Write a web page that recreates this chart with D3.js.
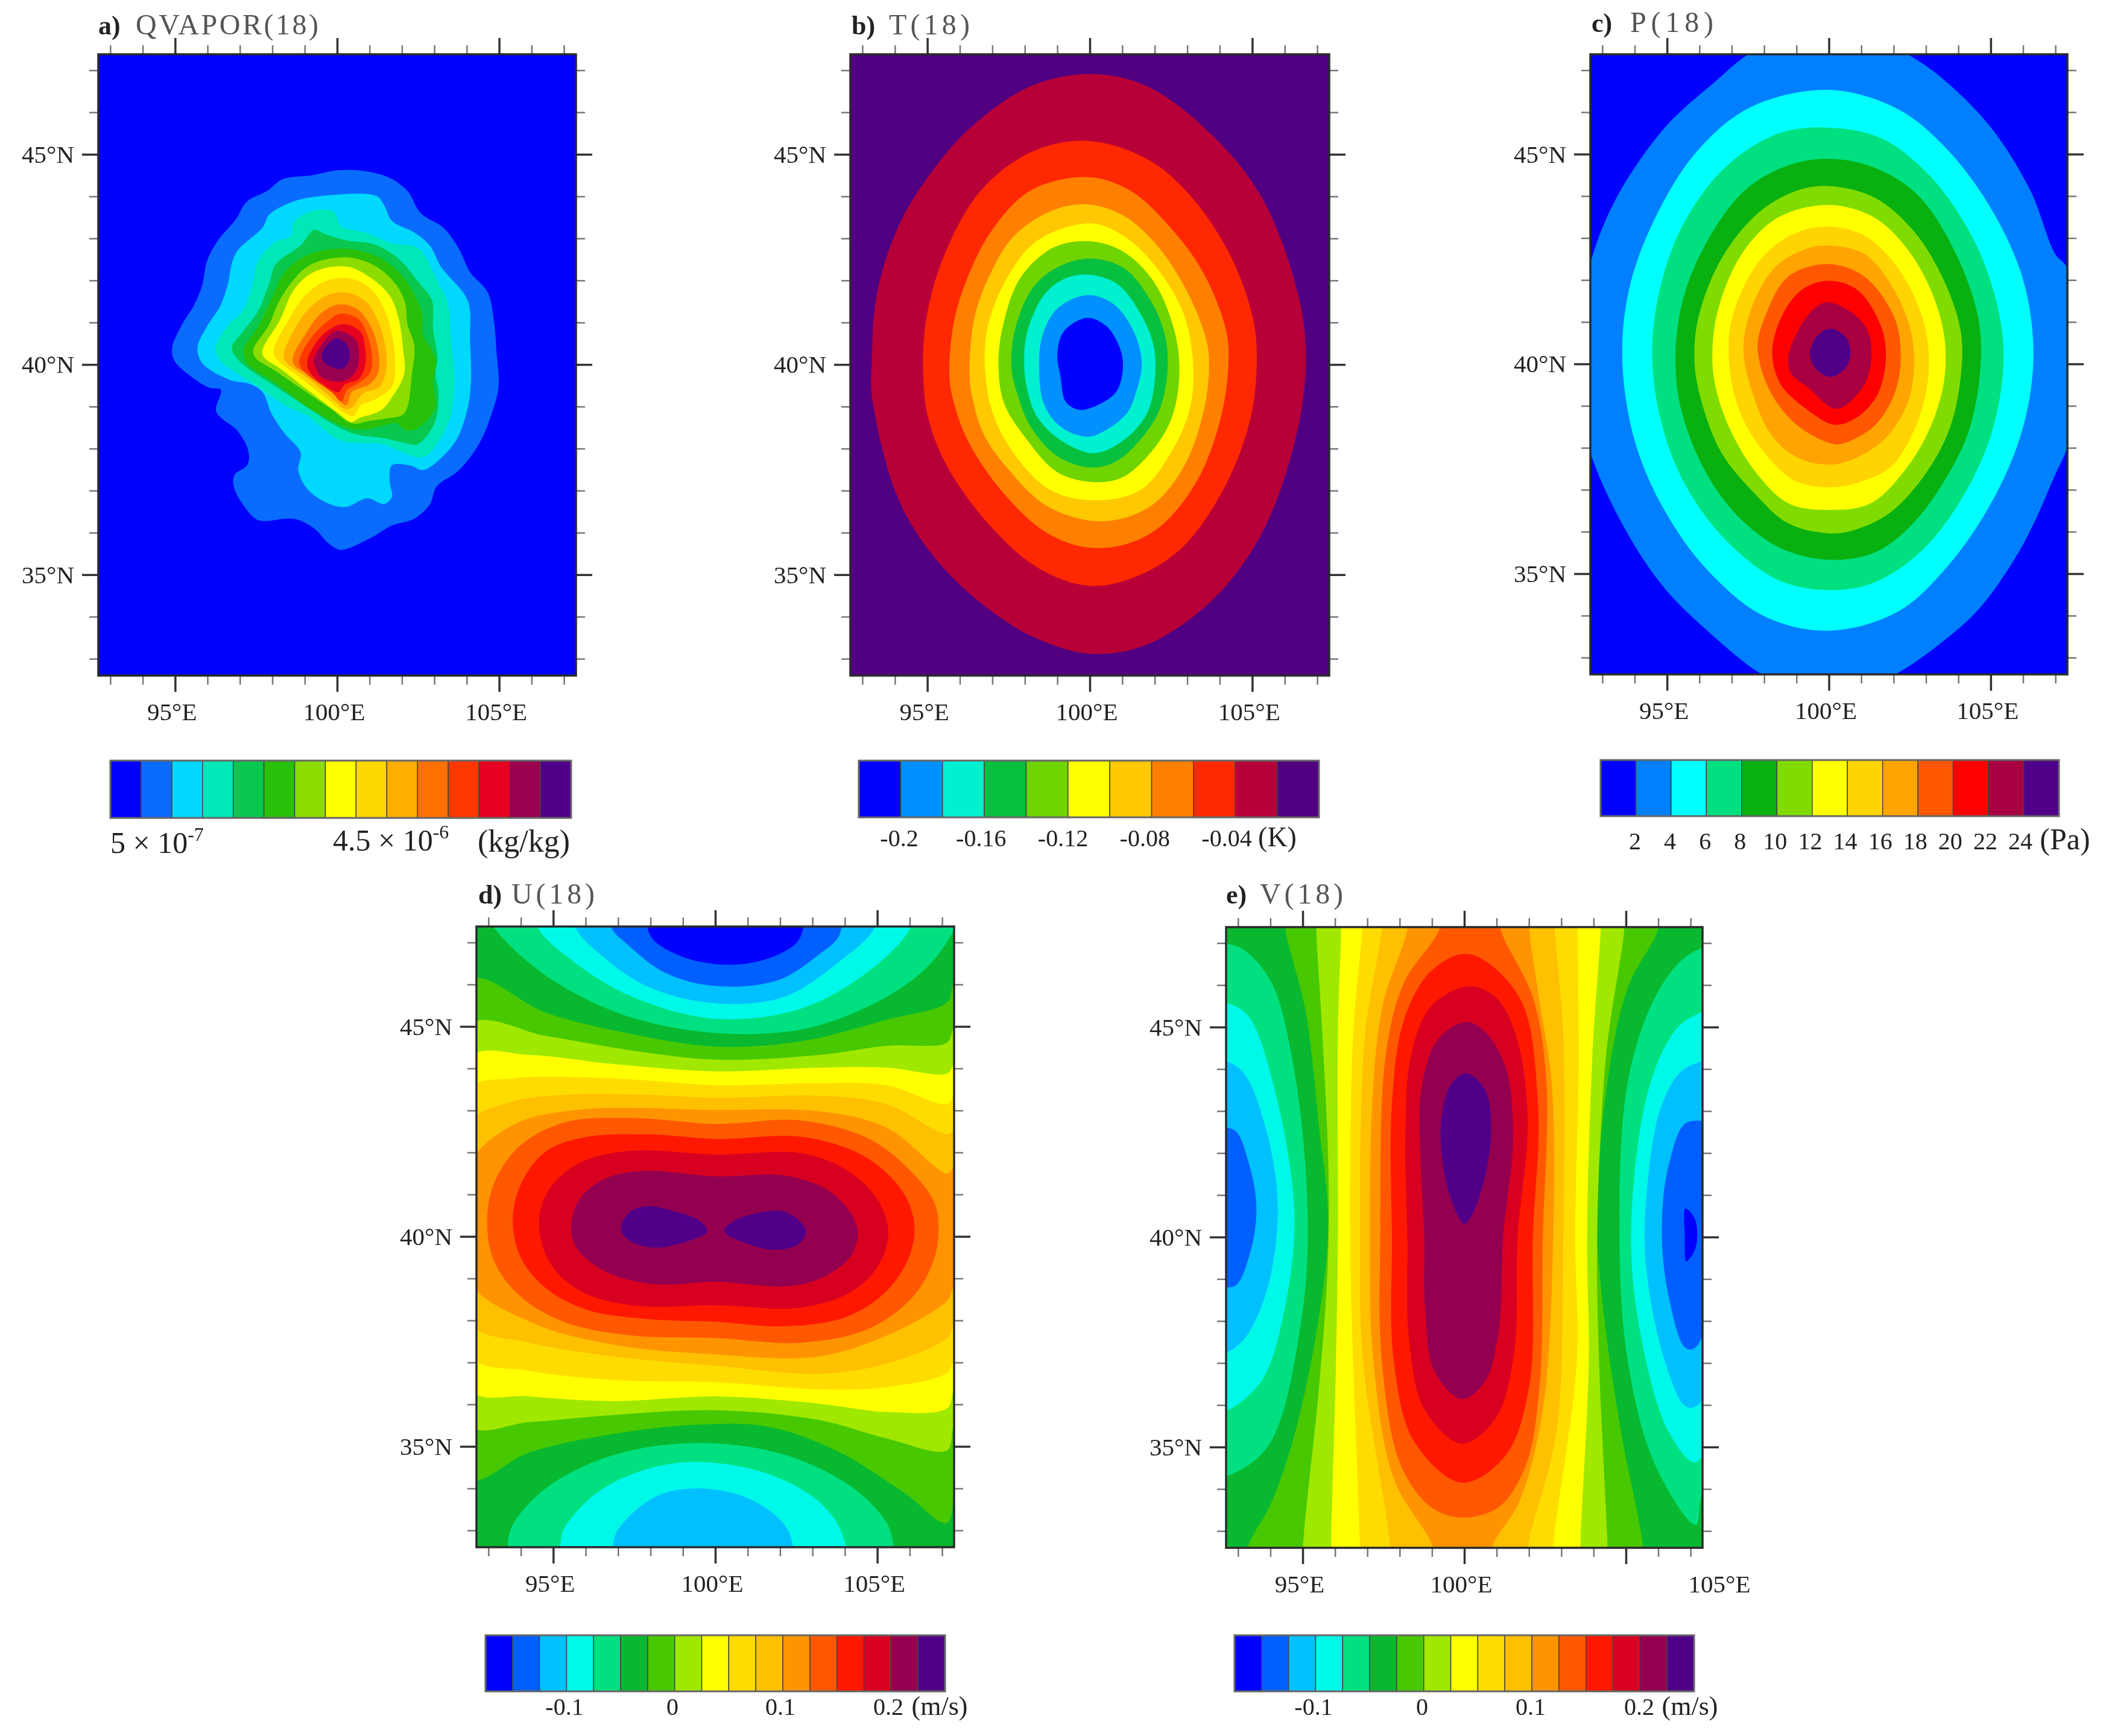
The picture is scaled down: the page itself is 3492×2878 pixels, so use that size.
<!DOCTYPE html>
<html>
<head>
<meta charset="utf-8">
<script src="https://cdn.jsdelivr.net/npm/d3@7"></script>
<style>
  body { margin: 0; background: #fff; }
  svg { filter: blur(0.7px); }
  text { font-family: "Liberation Serif", serif; fill: #222; }
</style>
</head>
<body>
<script>
const width = 3492;
const height = 2878;

const lonDomain = [92.63, 107.37];
const latDomain = [32.6, 47.38];
const lonMajor = [95, 100, 105];
const latMajor = [35, 40, 45];
const lonMinor = [93, 94, 96, 97, 98, 99, 101, 102, 103, 104, 106, 107];
const latMinor = [33, 34, 36, 37, 38, 39, 41, 42, 43, 44, 46, 47];

const qvaporColors = ["#0000ff", "#0a6cff", "#00d8ff", "#00e8b8", "#08c850", "#28c008", "#8cdc00", "#ffff00", "#ffd800", "#ffae00", "#ff7000", "#ff3800", "#e60020", "#9a0050", "#500088"];
const tempColors = ["#0000ff", "#0090ff", "#00f0d0", "#08c040", "#70d400", "#ffff00", "#ffc800", "#ff8000", "#ff2800", "#b80038", "#500080"];
const presColors = ["#0000ff", "#0080ff", "#00ffff", "#00e080", "#08b010", "#80dc00", "#ffff00", "#ffd400", "#ffa400", "#ff5800", "#ff0000", "#a80040", "#500088"];
const windColors = ["#0000ff", "#0060ff", "#00c0ff", "#00f8e8", "#00e080", "#08b830", "#48c800", "#a0e800", "#ffff00", "#ffdc00", "#ffc000", "#ff9400", "#ff5800", "#ff1800", "#d80020", "#940050", "#500088"];

// contour rings, [colour index, [lon, lat, lon, lat, ...]], painted outermost first
const qvaporRings = [
  [1, [94.91,40.40, 95.22,40.96, 95.57,41.39, 95.84,41.89, 95.98,42.45, 96.32,42.95, 96.87,43.45, 97.22,43.88, 97.84,44.13, 98.32,44.41, 99.21,44.50, 100.04,44.62, 100.86,44.60, 101.62,44.44, 102.17,44.13, 102.58,43.60, 103.27,43.26, 103.75,42.76, 104.10,42.20, 104.65,41.71, 104.85,40.96, 104.92,40.27, 104.98,39.47, 104.72,38.72, 104.37,38.10, 103.75,37.48, 103.07,37.10, 102.86,36.67, 102.38,36.33, 101.69,36.17, 101.00,35.86, 100.11,35.59, 99.76,35.73, 99.28,36.11, 98.66,36.33, 97.56,36.30, 97.15,36.61, 96.81,37.10, 96.84,37.38, 97.22,37.60, 97.27,37.91, 96.94,38.41, 96.27,38.88, 96.41,39.40, 96.05,39.45, 95.50,39.71, 94.98,40.09]],
  [2, [95.69,40.40, 95.98,40.90, 96.39,41.39, 96.60,41.83, 96.87,42.64, 97.70,43.26, 97.91,43.57, 98.66,43.88, 99.63,44.02, 101.21,44.01, 101.45,43.79, 101.69,43.42, 102.38,43.14, 102.86,42.83, 103.20,42.33, 104.03,41.52, 104.10,40.59, 104.13,39.59, 104.03,38.97, 103.69,38.22, 103.13,37.72, 102.65,37.49, 102.24,37.60, 101.69,37.60, 101.62,37.23, 101.69,36.85, 101.45,36.68, 100.93,36.82, 100.25,36.61, 99.63,36.73, 99.08,37.04, 98.80,37.48, 98.87,37.91, 98.39,38.35, 97.97,38.84, 97.70,39.34, 97.29,39.54, 96.74,39.62, 95.84,40.03]],
  [3, [96.25,40.37, 96.60,40.90, 97.08,41.27, 97.36,41.83, 97.56,42.45, 98.04,42.89, 98.59,43.07, 98.66,43.39, 99.28,43.66, 99.90,43.63, 100.11,43.29, 100.86,43.14, 101.69,42.89, 102.52,42.76, 103.07,42.02, 103.41,41.46, 103.51,40.59, 103.62,39.65, 103.48,38.72, 103.07,38.10, 102.65,37.79, 102.03,37.91, 101.41,38.10, 100.73,38.13, 100.11,38.19, 99.56,38.47, 99.08,38.78, 98.39,39.03, 97.56,39.47, 96.81,39.84, 96.39,40.09]],
  [4, [96.75,40.40, 97.08,40.77, 97.56,41.27, 97.91,41.95, 98.11,42.39, 98.87,42.83, 99.28,43.20, 99.63,43.10, 100.31,42.95, 101.14,42.86, 101.90,42.51, 102.52,41.95, 102.93,41.52, 102.96,40.83, 103.10,40.15, 103.03,39.78, 103.13,39.34, 103.00,38.60, 102.48,38.10, 102.10,38.13, 101.41,38.25, 100.52,38.35, 99.83,38.60, 99.21,38.91, 98.25,39.40, 97.01,40.06]],
  [5, [97.11,40.34, 97.56,40.90, 97.91,41.46, 98.46,42.27, 99.21,42.64, 100.18,42.76, 101.21,42.58, 101.90,42.20, 102.31,41.77, 102.62,41.21, 102.65,40.71, 103.03,40.15, 102.96,39.53, 103.03,38.97, 102.45,38.47, 102.10,38.44, 101.83,38.60, 101.00,38.47, 100.45,38.47, 99.83,38.66, 99.01,39.03, 98.04,39.59, 97.22,40.03]],
  [6, [97.41,40.34, 97.91,40.96, 98.18,41.46, 98.66,42.02, 99.21,42.39, 100.31,42.55, 101.21,42.33, 101.83,41.89, 102.10,41.46, 102.17,40.96, 102.38,40.46, 102.31,39.78, 102.07,38.84, 101.55,38.72, 101.00,38.66, 100.45,38.60, 99.76,38.97, 98.94,39.40, 98.11,39.84, 97.49,40.15]],
  [7, [97.69,40.31, 98.25,41.08, 98.66,41.77, 99.28,42.20, 100.31,42.33, 101.00,42.08, 101.62,41.64, 101.90,41.08, 102.03,40.40, 102.07,39.78, 101.69,39.22, 101.35,38.91, 100.66,38.72, 100.45,38.63, 100.04,38.84, 99.08,39.40, 98.25,39.90, 97.77,40.15]],
  [8, [98.04,40.31, 98.52,41.08, 99.01,41.64, 99.63,41.98, 100.38,42.05, 101.00,41.83, 101.45,41.33, 101.69,40.71, 101.79,40.03, 101.69,39.47, 101.14,39.16, 100.73,39.03, 100.52,38.78, 100.31,38.81, 99.63,39.22, 98.80,39.72, 98.18,40.09]],
  [9, [98.35,40.21, 98.73,40.90, 99.21,41.39, 99.76,41.67, 100.31,41.71, 100.86,41.52, 101.24,41.08, 101.48,40.46, 101.52,39.90, 101.31,39.47, 100.80,39.31, 100.45,38.97, 100.25,38.94, 99.63,39.34, 99.01,39.72, 98.46,40.03]],
  [10, [98.63,40.15, 99.01,40.71, 99.49,41.21, 100.04,41.43, 100.59,41.33, 101.00,40.96, 101.24,40.46, 101.28,39.84, 101.00,39.53, 100.45,39.34, 100.28,39.03, 99.76,39.40, 99.08,39.78, 98.70,39.96]],
  [11, [98.83,40.09, 99.21,40.65, 99.69,41.02, 100.11,41.21, 100.66,41.08, 100.93,40.71, 101.07,40.27, 101.04,39.84, 100.73,39.59, 100.31,39.40, 100.14,39.12, 99.83,39.34, 99.21,39.68, 98.90,39.90]],
  [12, [99.08,40.09, 99.42,40.59, 99.83,40.87, 100.25,40.96, 100.73,40.77, 100.86,40.40, 100.86,39.96, 100.66,39.65, 100.25,39.53, 100.04,39.34, 99.56,39.53, 99.14,39.84]],
  [13, [99.28,40.09, 99.56,40.52, 99.97,40.80, 100.38,40.71, 100.62,40.52, 100.66,40.03, 100.45,39.71, 100.04,39.59, 99.49,39.71, 99.32,39.96]],
  [14, [99.52,40.21, 99.69,40.46, 100.00,40.62, 100.31,40.46, 100.38,40.15, 100.18,39.90, 99.76,39.96, 99.56,40.09]]
];

const tempRings = [
  [9, [93.29,40.03, 93.44,41.65, 94.10,43.27, 95.12,44.57, 96.35,45.65, 98.18,46.62, 100.02,46.91, 101.76,46.62, 103.80,45.43, 105.33,43.92, 106.45,41.54, 106.65,40.03, 106.35,38.30, 105.33,36.04, 103.80,34.42, 101.76,33.34, 100.02,33.12, 98.18,33.55, 96.35,34.52, 94.92,35.71, 94.00,37.01, 93.29,39.28]],
  [8, [94.87,39.82, 94.97,41.11, 95.53,42.62, 96.65,44.14, 98.18,45.05, 99.92,45.32, 101.76,44.89, 103.08,44.03, 104.31,42.62, 105.02,41.11, 105.14,40.03, 104.92,38.63, 104.10,37.01, 102.78,35.60, 101.24,34.90, 99.92,34.74, 98.39,35.17, 96.96,36.14, 95.63,37.55, 95.02,38.74]],
  [7, [95.68,39.71, 95.79,40.90, 96.14,41.87, 96.96,43.16, 98.18,44.14, 99.92,44.46, 101.24,44.14, 102.47,43.27, 103.49,42.19, 104.20,40.79, 104.26,39.92, 104.00,38.63, 103.29,37.22, 102.16,36.14, 101.04,35.71, 99.82,35.66, 98.59,36.04, 97.27,37.01, 96.24,38.20, 95.79,39.17]],
  [6, [96.30,39.71, 96.45,41.11, 96.96,42.19, 97.67,43.06, 98.80,43.65, 99.92,43.81, 101.04,43.54, 102.06,42.84, 102.98,41.76, 103.59,40.57, 103.67,39.92, 103.49,38.84, 102.88,37.55, 101.96,36.68, 100.84,36.31, 99.82,36.31, 98.59,36.68, 97.57,37.44, 96.76,38.30, 96.40,39.17]],
  [5, [96.78,39.82, 96.86,40.90, 97.47,42.08, 98.39,42.95, 100.02,43.36, 101.04,43.06, 102.06,42.30, 102.88,41.22, 103.18,40.03, 103.08,38.95, 102.47,37.87, 101.55,37.01, 100.12,36.77, 98.80,37.01, 97.78,37.76, 97.06,38.74]],
  [4, [97.19,39.92, 97.32,40.90, 97.88,42.08, 98.90,42.79, 100.02,42.93, 101.04,42.68, 101.96,41.98, 102.57,40.90, 102.76,39.92, 102.57,38.84, 102.06,38.09, 101.04,37.33, 100.12,37.20, 99.00,37.44, 97.98,38.30, 97.37,39.06]],
  [3, [97.59,39.92, 97.72,40.90, 98.29,41.87, 99.10,42.35, 100.02,42.52, 101.04,42.30, 101.86,41.54, 102.32,40.68, 102.39,39.82, 102.16,38.95, 101.65,38.30, 100.84,37.71, 100.02,37.55, 99.00,37.82, 98.18,38.52, 97.78,39.28]],
  [2, [97.98,40.03, 98.08,40.79, 98.59,41.65, 99.20,42.03, 99.92,42.14, 100.84,41.92, 101.55,41.22, 101.96,40.46, 102.01,39.71, 101.76,38.84, 101.04,38.20, 100.12,37.89, 99.10,38.20, 98.39,38.74, 98.08,39.38]],
  [1, [98.44,39.92, 98.54,40.68, 99.00,41.33, 99.92,41.65, 100.73,41.44, 101.35,40.79, 101.60,40.03, 101.40,39.28, 101.14,38.84, 100.43,38.41, 99.92,38.28, 99.10,38.52, 98.59,39.06]],
  [0, [99.00,40.25, 99.20,40.79, 99.92,41.11, 100.53,40.90, 100.94,40.36, 101.02,39.92, 100.84,39.38, 100.43,39.11, 99.71,38.92, 99.26,39.11, 99.10,39.71]]
];

const presRings = [
  [1, [92.59,42.30, 93.41,43.92, 94.95,45.65, 96.49,46.73, 97.51,47.38, 98.80,47.85, 100.00,47.98, 101.20,47.85, 102.43,47.38, 103.45,46.84, 104.99,45.65, 106.22,44.14, 106.99,42.62, 107.35,42.30, 107.86,40.14, 107.35,37.98, 107.04,37.44, 106.01,35.71, 104.68,34.20, 103.45,33.34, 102.12,32.63, 101.00,32.25, 100.00,32.15, 99.00,32.25, 97.87,32.63, 96.38,33.55, 94.95,34.63, 93.72,36.04, 92.59,37.98, 92.08,40.14]],
  [2, [93.62,40.03, 93.82,41.76, 94.64,43.49, 95.97,45.11, 97.61,46.13, 100.00,46.53, 102.12,46.08, 103.66,45.11, 105.09,43.60, 106.01,41.98, 106.32,40.25, 106.01,38.52, 105.09,36.79, 103.66,35.17, 102.12,34.09, 100.00,33.64, 98.02,33.98, 96.28,35.06, 94.95,36.47, 94.03,38.09]],
  [3, [94.54,40.14, 94.74,41.65, 95.46,43.27, 96.79,44.68, 98.43,45.49, 100.00,45.63, 101.61,45.38, 103.15,44.46, 104.48,42.95, 105.19,41.44, 105.40,40.14, 105.09,38.52, 104.27,37.01, 102.94,35.60, 101.40,34.79, 100.00,34.61, 98.43,34.85, 96.79,35.82, 95.56,37.12, 94.85,38.52]],
  [4, [95.26,40.03, 95.46,41.44, 96.18,42.84, 97.41,44.14, 98.74,44.73, 100.00,44.89, 101.40,44.68, 102.74,44.03, 103.86,42.73, 104.58,41.22, 104.70,40.14, 104.37,38.52, 103.66,37.33, 102.53,36.14, 101.40,35.50, 100.00,35.33, 98.53,35.60, 97.20,36.36, 96.18,37.44, 95.46,38.84]],
  [5, [95.85,40.03, 95.97,41.11, 96.69,42.52, 97.82,43.60, 99.05,44.14, 100.00,44.24, 101.40,43.97, 102.63,43.16, 103.56,41.98, 104.07,40.79, 104.09,39.82, 103.76,38.52, 103.04,37.44, 101.92,36.47, 100.79,36.04, 100.00,35.96, 98.74,36.20, 97.72,36.90, 96.69,37.87, 96.08,39.06]],
  [6, [96.40,40.25, 96.59,41.33, 97.31,42.62, 98.43,43.49, 100.00,43.79, 101.40,43.49, 102.43,42.73, 103.15,41.76, 103.56,40.68, 103.56,39.60, 103.15,38.52, 102.43,37.55, 101.30,36.68, 100.00,36.52, 98.74,36.68, 97.72,37.44, 96.90,38.52, 96.49,39.49]],
  [7, [96.90,40.36, 97.10,41.33, 97.92,42.52, 98.94,43.11, 100.00,43.27, 101.10,43.06, 102.12,42.30, 102.84,41.22, 103.09,40.25, 102.99,39.28, 102.63,38.41, 101.92,37.55, 100.89,37.17, 100.00,37.06, 98.94,37.22, 98.02,37.87, 97.20,38.95]],
  [8, [97.36,40.36, 97.61,41.33, 98.33,42.30, 99.25,42.73, 100.00,42.82, 101.10,42.62, 102.02,41.76, 102.53,40.79, 102.63,39.92, 102.43,39.06, 101.71,38.20, 100.69,37.71, 100.00,37.60, 99.05,37.76, 98.23,38.30, 97.61,39.38]],
  [9, [97.80,40.36, 98.02,41.11, 98.74,42.08, 100.00,42.38, 101.10,42.08, 102.02,41.11, 102.22,40.14, 102.02,39.28, 101.40,38.52, 100.38,38.09, 100.00,38.12, 99.05,38.52, 98.23,39.28]],
  [10, [98.25,40.25, 98.53,41.11, 99.15,41.76, 100.00,41.98, 100.89,41.76, 101.61,40.90, 101.76,40.14, 101.51,39.28, 100.89,38.74, 100.17,38.55, 99.35,38.90, 98.53,39.49]],
  [11, [98.74,40.14, 99.05,40.79, 99.56,41.33, 100.00,41.47, 100.89,41.11, 101.25,40.68, 101.28,39.92, 100.99,39.38, 100.23,38.93, 99.35,39.44, 98.84,39.76]],
  [12, [99.41,40.25, 99.66,40.68, 100.07,40.84, 100.53,40.63, 100.67,40.25, 100.53,39.92, 100.07,39.69, 99.61,39.87]]
];

const uRings = [
  [4, [93.01,47.61, 93.17,47.36, 93.96,46.71, 95.32,45.94, 97.42,45.21, 100.04,44.84, 102.67,44.93, 104.76,45.49, 106.34,46.27, 107.18,47.05, 107.39,47.49, 100.04,47.94]],
  [3, [94.53,47.83, 94.53,47.36, 95.53,46.60, 97.42,45.71, 100.04,45.18, 102.67,45.43, 104.76,46.33, 106.02,47.36, 106.02,47.83]],
  [2, [95.69,47.83, 95.69,47.36, 96.37,46.77, 97.94,45.94, 100.04,45.55, 102.14,45.71, 103.92,46.60, 104.92,47.36, 104.92,47.83]],
  [1, [96.79,47.83, 96.79,47.36, 97.31,46.94, 98.47,46.27, 100.04,45.96, 101.93,46.10, 103.19,46.71, 103.82,47.16, 103.82,47.83]],
  [0, [98.00,47.83, 98.00,47.16, 98.99,46.66, 100.57,46.47, 101.93,46.71, 102.61,47.10, 102.61,47.83]],
  [4, [93.59,32.13, 93.59,32.63, 93.75,33.13, 94.80,34.02, 96.89,34.80, 99.52,35.08, 102.14,34.80, 104.24,34.02, 105.29,33.18, 105.50,32.63, 105.50,32.13]],
  [3, [95.22,32.13, 95.22,32.63, 95.32,33.02, 96.37,33.91, 97.94,34.47, 99.52,34.63, 101.62,34.35, 103.19,33.69, 103.92,32.91, 103.95,32.13]],
  [2, [96.84,32.13, 96.84,32.63, 97.00,33.02, 98.15,33.80, 99.52,34.00, 101.09,33.74, 102.14,33.13, 102.40,32.63, 102.40,32.13]],
  [6, [92.38,46.10, 94.80,45.32, 97.42,44.82, 100.04,44.52, 102.67,44.65, 105.29,45.16, 107.16,45.58, 107.39,46.05, 107.81,46.05, 107.81,33.69, 107.39,34.91, 107.16,33.18, 105.81,33.91, 103.71,34.91, 101.62,35.47, 99.52,35.52, 96.89,35.30, 94.27,34.86, 92.38,34.24]],
  [7, [92.38,45.02, 94.80,44.77, 97.42,44.43, 100.04,44.21, 103.19,44.32, 105.29,44.54, 107.16,44.62, 107.39,44.99, 107.81,44.99, 107.81,35.52, 107.39,35.52, 107.16,34.91, 105.29,35.19, 103.19,35.63, 100.04,35.86, 96.89,35.75, 94.27,35.58, 92.38,35.52]],
  [8, [92.38,44.24, 94.27,44.32, 96.89,44.10, 100.04,43.93, 103.19,44.02, 105.29,44.02, 107.16,43.88, 107.39,44.10, 107.81,44.10, 107.81,36.36, 107.39,36.36, 107.16,35.91, 105.29,35.82, 103.19,36.02, 100.04,36.19, 96.89,36.08, 94.27,36.19, 92.38,36.38]],
  [9, [92.38,43.49, 93.75,43.76, 96.89,43.76, 100.04,43.60, 103.19,43.65, 105.29,43.60, 107.16,43.15, 107.39,43.37, 107.81,43.37, 107.81,37.03, 107.39,37.03, 107.16,36.75, 105.29,36.41, 103.19,36.36, 100.04,36.53, 96.89,36.58, 94.27,36.80, 92.38,37.19]],
  [10, [92.38,42.65, 93.75,43.21, 95.32,43.37, 97.94,43.37, 100.04,43.30, 103.19,43.35, 105.29,43.15, 107.16,42.43, 107.39,42.54, 107.81,42.54, 107.81,37.86, 107.39,37.86, 107.16,37.58, 105.29,36.97, 103.19,36.73, 100.04,36.92, 96.89,37.14, 94.27,37.47, 92.38,37.97]],
  [11, [92.38,41.65, 93.75,42.65, 95.84,43.02, 100.04,43.01, 103.19,42.98, 105.29,42.59, 107.16,41.50, 107.39,41.65, 107.81,41.65, 107.81,38.81, 107.39,38.81, 107.16,38.47, 105.29,37.64, 103.19,37.14, 100.04,37.19, 96.89,37.42, 94.27,37.97, 92.38,38.98]],
  [12, [92.96,40.37, 93.17,41.26, 93.96,42.15, 95.32,42.71, 97.42,42.82, 100.04,42.68, 102.67,42.76, 104.76,42.32, 106.13,41.48, 106.76,40.81, 106.89,40.26, 106.76,39.48, 106.13,38.59, 104.76,37.81, 102.67,37.47, 100.04,37.58, 97.42,37.64, 95.32,37.97, 93.96,38.59, 93.17,39.42]],
  [13, [93.75,40.37, 94.01,41.26, 94.80,42.04, 96.05,42.37, 97.94,42.43, 100.04,42.32, 102.67,42.37, 104.55,41.93, 105.71,41.15, 106.13,40.37, 106.02,39.59, 105.29,38.70, 104.03,38.08, 102.14,37.86, 100.04,37.97, 97.94,38.03, 96.05,38.25, 94.80,38.75, 94.01,39.48]],
  [14, [94.56,40.37, 94.90,41.15, 95.84,41.76, 97.42,42.04, 100.04,41.95, 102.67,41.98, 104.03,41.59, 104.97,40.92, 105.34,40.14, 105.08,39.37, 104.24,38.70, 102.67,38.31, 100.04,38.36, 97.42,38.36, 95.84,38.70, 94.90,39.37]],
  [15, [95.55,40.26, 95.84,40.92, 96.58,41.37, 97.73,41.56, 100.04,41.43, 102.14,41.45, 103.50,41.09, 104.24,40.48, 104.40,40.03, 104.13,39.48, 103.19,38.98, 102.14,38.81, 100.04,38.92, 98.15,38.86, 96.68,39.14, 95.74,39.70]],
  [16, [97.10,40.26, 97.37,40.59, 97.94,40.72, 98.78,40.59, 99.52,40.37, 99.75,40.12, 99.20,39.90, 98.15,39.73, 97.42,39.87, 97.12,40.09]],
  [16, [100.27,40.12, 100.57,40.37, 101.51,40.59, 102.14,40.59, 102.67,40.31, 102.79,40.09, 102.56,39.81, 101.83,39.68, 100.99,39.83]]
];

const vRings = [
  [4, [92.15,46.99, 92.62,46.99, 93.20,46.83, 94.04,46.05, 94.67,44.27, 95.14,40.92, 94.98,38.14, 93.93,35.02, 92.62,34.30, 92.15,34.30]],
  [3, [92.15,45.58, 92.62,45.58, 93.31,45.27, 94.14,43.49, 94.74,40.59, 94.46,38.36, 93.73,36.58, 92.62,35.86, 92.15,35.86]],
  [2, [92.15,44.19, 92.62,44.19, 93.20,43.88, 93.93,42.37, 94.23,40.59, 93.88,38.70, 93.20,37.58, 92.62,37.25, 92.15,37.25]],
  [1, [92.15,42.54, 92.89,42.54, 93.31,41.82, 93.57,40.70, 93.36,39.59, 92.89,38.83, 92.15,38.98]],
  [4, [107.89,46.88, 107.39,46.88, 106.74,46.60, 105.90,45.71, 105.06,43.71, 104.80,40.03, 105.06,37.03, 105.90,34.58, 107.16,33.15, 107.39,33.91, 107.89,33.91]],
  [3, [107.89,45.43, 107.16,45.29, 106.53,44.93, 105.69,43.49, 105.16,40.03, 105.48,37.58, 106.32,35.36, 107.16,34.63, 107.89,36.69]],
  [2, [107.89,44.10, 106.84,44.02, 106.11,43.15, 105.63,40.92, 105.63,39.25, 106.21,37.03, 106.84,35.97, 107.16,35.97, 107.89,36.92]],
  [1, [107.89,42.54, 106.89,42.73, 106.32,41.70, 106.11,40.14, 106.32,38.59, 106.84,37.36, 107.14,37.36, 107.89,39.25]],
  [0, [106.84,40.68, 107.14,40.42, 107.16,39.76, 106.87,39.42, 106.82,40.03]],
  [6, [94.46,47.83, 94.46,47.34, 95.09,45.38, 95.51,42.59, 95.79,40.37, 95.51,38.14, 94.77,35.36, 94.04,33.69, 93.31,32.62, 93.31,32.13, 105.53,32.13, 105.53,32.62, 104.85,35.36, 104.32,38.14, 104.11,40.37, 104.43,43.71, 105.06,45.94, 106.00,47.34, 106.00,47.83]],
  [7, [95.42,47.83, 95.42,47.34, 95.61,44.82, 95.80,41.48, 95.77,39.25, 95.51,36.47, 95.01,32.62, 95.01,32.13, 104.43,32.13, 104.43,32.62, 104.17,37.03, 104.11,40.00, 104.38,44.27, 104.95,47.34, 104.95,47.83]],
  [8, [96.19,47.83, 96.19,47.34, 96.09,44.82, 96.09,40.00, 96.03,37.03, 95.88,32.62, 95.88,32.13, 103.59,32.13, 103.59,32.62, 103.85,37.03, 103.80,40.00, 103.96,44.27, 104.22,47.34, 104.22,47.83]],
  [9, [96.84,47.83, 96.84,47.34, 96.56,44.82, 96.47,40.00, 96.56,37.03, 96.77,32.62, 96.77,32.13, 102.75,32.13, 102.75,32.62, 103.48,37.03, 103.43,40.00, 103.54,44.27, 103.50,47.34, 103.50,47.83]],
  [10, [97.45,47.83, 97.45,47.34, 96.93,44.82, 96.77,40.00, 96.87,37.03, 97.71,32.62, 97.71,32.13, 101.96,32.13, 101.96,32.62, 102.85,35.36, 103.06,40.00, 103.06,44.82, 102.80,47.34, 102.80,47.83]],
  [11, [98.24,47.83, 98.24,47.34, 97.50,45.60, 97.19,43.71, 97.08,40.00, 97.19,37.03, 97.82,34.24, 99.02,32.62, 99.02,32.13, 100.86,32.13, 100.86,32.62, 101.70,33.69, 102.43,35.91, 102.75,40.00, 102.70,43.71, 102.33,45.60, 102.01,47.34, 102.01,47.83]],
  [12, [99.23,47.83, 99.23,47.34, 98.13,46.05, 97.56,44.27, 97.40,40.00, 97.45,37.03, 98.03,34.58, 98.97,33.57, 99.92,33.32, 101.07,33.57, 101.91,34.58, 102.33,36.47, 102.43,40.00, 102.54,43.71, 102.12,45.71, 101.12,47.34, 101.12,47.83]],
  [13, [100.13,46.74, 98.97,46.33, 98.13,45.16, 97.76,43.15, 97.76,40.00, 97.82,37.03, 98.45,35.13, 99.92,34.15, 101.28,34.80, 102.01,36.47, 102.12,40.00, 102.28,43.15, 101.70,45.71]],
  [14, [100.13,45.97, 98.97,45.49, 98.34,44.27, 98.18,42.37, 98.24,40.00, 98.29,37.58, 98.76,35.91, 99.92,35.08, 100.97,35.69, 101.54,37.25, 101.65,40.00, 101.96,42.82, 101.59,44.82, 100.97,45.71]],
  [15, [100.07,45.12, 99.18,44.71, 98.66,43.49, 98.64,41.93, 98.76,40.00, 98.78,38.36, 99.08,36.80, 99.92,36.14, 100.65,36.58, 101.07,37.81, 101.20,40.00, 101.51,42.37, 101.28,44.04, 100.65,44.88]],
  [16, [100.07,43.90, 99.60,43.65, 99.29,42.82, 99.34,41.70, 99.71,40.65, 100.00,40.31, 100.28,40.59, 100.65,41.48, 100.83,42.59, 100.65,43.49]]
];

const tempTicks = [-0.2, -0.16, -0.12, -0.08, -0.04];
const presTicks = [2, 4, 6, 8, 10, 12, 14, 16, 18, 20, 22, 24];
const windTicks = [-0.1, 0, 0.1, 0.2];

const hyphen = function(fmt) {
  return function(d) { return d3.format(fmt)(d).replace("−", "-"); };
};

const panels = [
  { tag: "a)", name: "QVAPOR(18)", tagX: 163, nameX: 225, nameW: 303, titleY: 57, rings: qvaporRings, colors: qvaporColors, bg: 0,
    x0: 163, x1: 955, y0: 90, y1: 1120, lonLabelShift: {},
    barX: [183, 947], barY: [1261, 1356] },
  { tag: "b)", name: "T(18)", tagX: 1412, nameX: 1474, nameW: 134, titleY: 57, rings: tempRings, colors: tempColors, bg: 10,
    x0: 1410, x1: 2204, y0: 90, y1: 1120, lonLabelShift: {},
    barX: [1424, 2187], barY: [1261, 1355],
    ticks: tempTicks, tickFmt: hyphen(".2~f"), tickDom: [-0.2, -0.04], tickRange: [1491, 2034], tickY: 1403, unit: "(K)", unitX: 2118, unitSize: 46 },
  { tag: "c)", name: "P(18)", tagX: 2639, nameX: 2703, nameW: 138, titleY: 53, rings: presRings, colors: presColors, bg: 0,
    x0: 2637, x1: 3428, y0: 90, y1: 1118, lonLabelShift: {},
    barX: [2654, 3414], barY: [1260, 1353],
    ticks: presTicks, tickFmt: hyphen("d"), tickDom: [2, 24], tickRange: [2711, 3350], tickY: 1408, unit: "(Pa)", unitX: 3424, unitSize: 50 },
  { tag: "d)", name: "U(18)", tagX: 793, nameX: 848, nameW: 138, titleY: 1498, rings: uRings, colors: windColors, bg: 5,
    x0: 790, x1: 1582, y0: 1536, y1: 2565, lonLabelShift: {},
    barX: [805, 1567], barY: [2711, 2804],
    ticks: windTicks, tickFmt: hyphen(".1~f"), tickDom: [-0.1, 0.2], tickRange: [936, 1473], tickY: 2843, unit: "(m/s)", unitX: 1558, unitSize: 44 },
  { tag: "e)", name: "V(18)", tagX: 2033, nameX: 2089, nameW: 138, titleY: 1498, rings: vRings, colors: windColors, bg: 5,
    x0: 2033, x1: 2823, y0: 1537, y1: 2566, lonLabelShift: { 105: 160 },
    barX: [2047, 2809], barY: [2711, 2804],
    ticks: windTicks, tickFmt: hyphen(".1~f"), tickDom: [-0.1, 0.2], tickRange: [2178, 2718], tickY: 2843, unit: "(m/s)", unitX: 2802, unitSize: 44 }
];

const svg = d3.select("body")
  .append("svg")
    .attr("width", width)
    .attr("height", height);

const toPoints = function(r) {
  return d3.range(0, r.length, 2).map(function(i) { return [r[i], r[i + 1]]; });
};

panels.forEach(function(p, i) {
  const x = d3.scaleLinear().domain(lonDomain).range([p.x0, p.x1]);
  const y = d3.scaleLinear().domain(latDomain).range([p.y1, p.y0]);

  svg.append("clipPath").attr("id", "clip" + i)
    .append("rect")
      .attr("x", p.x0).attr("y", p.y0)
      .attr("width", p.x1 - p.x0).attr("height", p.y1 - p.y0);

  const plot = svg.append("g").attr("clip-path", "url(#clip" + i + ")");

  plot.append("rect")
    .attr("x", p.x0).attr("y", p.y0)
    .attr("width", p.x1 - p.x0).attr("height", p.y1 - p.y0)
    .attr("fill", p.colors[p.bg]);

  const ring = d3.line()
    .x(function(d) { return x(d[0]); })
    .y(function(d) { return y(d[1]); })
    .curve(d3.curveCatmullRomClosed.alpha(0.5));

  plot.selectAll("path")
    .data(p.rings)
    .enter()
    .append("path")
      .attr("d", function(d) { return ring(toPoints(d[1])); })
      .attr("fill", function(d) { return p.colors[d[0]]; });

  // ticks on all four sides, longer ones every 5 degrees
  const sides = [
    [d3.axisTop(x), lonMinor, lonMajor, [0, p.y0]],
    [d3.axisBottom(x), lonMinor, lonMajor, [0, p.y1]],
    [d3.axisLeft(y), latMinor, latMajor, [p.x0, 0]],
    [d3.axisRight(y), latMinor, latMajor, [p.x1, 0]]
  ];
  sides.forEach(function(s) {
    const minor = svg.append("g")
      .attr("transform", "translate(" + s[3] + ")")
      .call(s[0].tickValues(s[1]).tickSize(15).tickFormat(""));
    minor.select(".domain").remove();
    minor.selectAll("line").attr("stroke", "#777").attr("stroke-width", 2.5);

    const major = svg.append("g")
      .attr("transform", "translate(" + s[3] + ")")
      .call(s[0].tickValues(s[2]).tickSize(27).tickFormat(""));
    major.select(".domain").remove();
    major.selectAll("line").attr("stroke", "#333").attr("stroke-width", 3.5);
  });

  // lon and lat labels
  svg.append("g").selectAll("text")
    .data(lonMajor)
    .enter()
    .append("text")
      .attr("x", function(d) { return x(d) - 5 + (p.lonLabelShift[d] || 0); })
      .attr("y", p.y1 + 74)
      .attr("text-anchor", "middle")
      .attr("font-size", 41)
      .text(function(d) { return d + "°E"; });

  svg.append("g").selectAll("text")
    .data(latMajor)
    .enter()
    .append("text")
      .attr("x", p.x0 - 40)
      .attr("y", function(d) { return y(d) + 14; })
      .attr("text-anchor", "end")
      .attr("font-size", 41)
      .text(function(d) { return d + "°N"; });

  svg.append("rect")
    .attr("x", p.x0).attr("y", p.y0)
    .attr("width", p.x1 - p.x0).attr("height", p.y1 - p.y0)
    .attr("fill", "none")
    .attr("stroke", "#2a2a2a")
    .attr("stroke-width", 3.5);

  // panel title
  svg.append("text")
    .attr("x", p.tagX).attr("y", p.titleY)
    .attr("font-size", 44).attr("font-weight", "bold")
    .text(p.tag);
  svg.append("text")
    .attr("x", p.nameX).attr("y", p.titleY)
    .attr("font-size", 48)
    .attr("textLength", p.nameW)
    .attr("lengthAdjust", "spacing")
    .style("fill", "#555")
    .text(p.name);

  // colour bar
  const barScale = d3.scaleBand().domain(d3.range(p.colors.length)).range(p.barX);
  svg.append("g").selectAll("rect")
    .data(p.colors)
    .enter()
    .append("rect")
      .attr("x", function(d, k) { return barScale(k); })
      .attr("y", p.barY[0])
      .attr("width", barScale.bandwidth())
      .attr("height", p.barY[1] - p.barY[0])
      .attr("fill", function(d) { return d; })
      .attr("stroke", "#444")
      .attr("stroke-width", 1.5);
  svg.append("rect")
    .attr("x", p.barX[0]).attr("y", p.barY[0])
    .attr("width", p.barX[1] - p.barX[0]).attr("height", p.barY[1] - p.barY[0])
    .attr("fill", "none")
    .attr("stroke", "#666")
    .attr("stroke-width", 3);

  if (p.ticks) {
    const tickScale = d3.scaleLinear().domain(p.tickDom).range(p.tickRange);
    svg.append("g").selectAll("text")
      .data(p.ticks)
      .enter()
      .append("text")
        .attr("x", function(d) { return tickScale(d); })
        .attr("y", p.tickY)
        .attr("text-anchor", "middle")
        .attr("font-size", 40)
        .text(function(d) { return p.tickFmt(d); });
    svg.append("text")
      .attr("x", p.unitX).attr("y", p.tickY)
      .attr("text-anchor", "middle")
      .attr("font-size", p.unitSize)
      .text(p.unit);
  }
});

// panel a labels its bar in scientific notation
const sciLabel = function(x, y, base, power) {
  const t = svg.append("text")
    .attr("x", x).attr("y", y)
    .attr("font-size", 50);
  t.append("tspan").text(base);
  t.append("tspan").attr("font-size", 32).attr("dy", -20).text(power);
};
sciLabel(183, 1414, "5 × 10", "-7");
sciLabel(552, 1410, "4.5 × 10", "-6");
svg.append("text")
  .attr("x", 792).attr("y", 1412)
  .attr("font-size", 52)
  .text("(kg/kg)");
</script>
</body>
</html>
